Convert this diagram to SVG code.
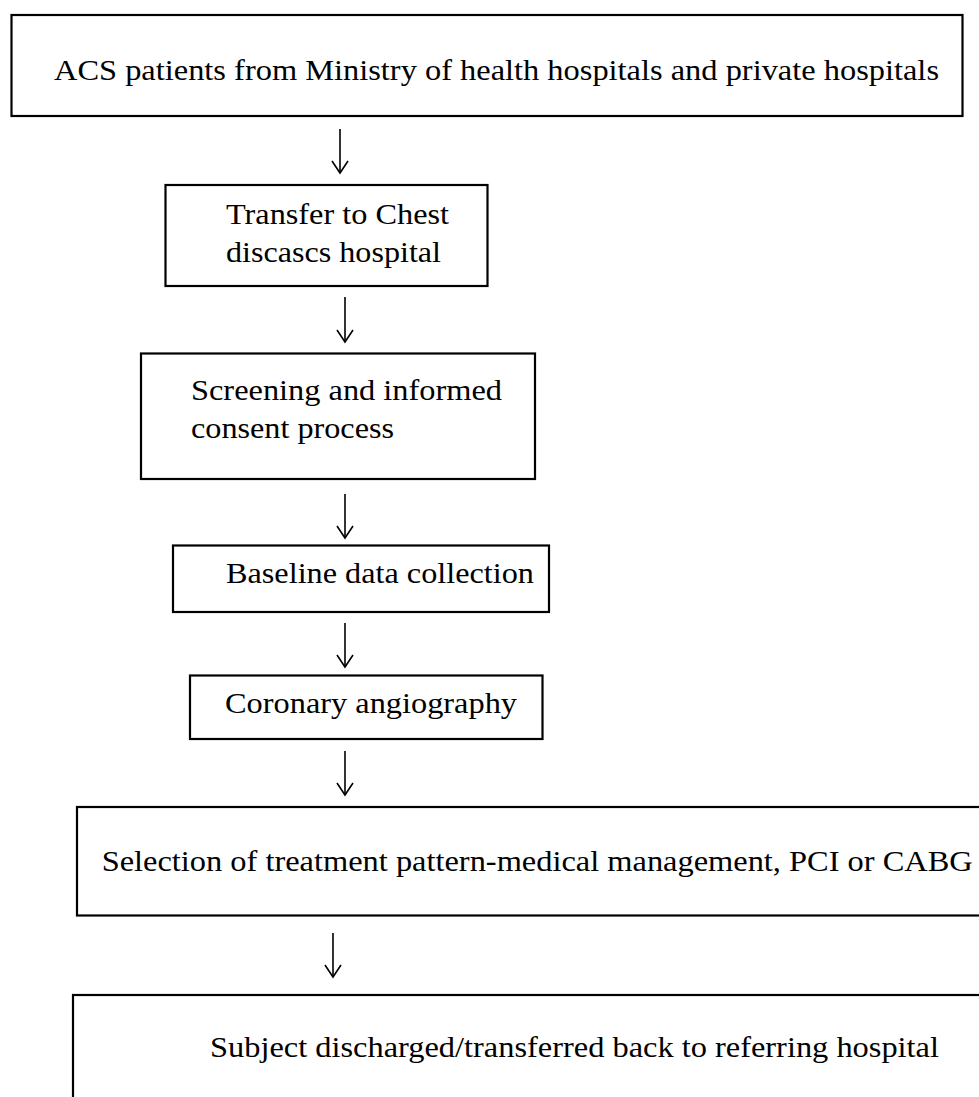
<svg xmlns="http://www.w3.org/2000/svg" width="979" height="1097" viewBox="0 0 979 1097">
<style>
.box{fill:#fff;stroke:#000;stroke-width:2.2}
.lbl{font-family:'Liberation Serif','Times New Roman',serif;font-size:29.5px;fill:#000}
.con{stroke:#000;stroke-width:1.6;fill:none}
</style>
<defs>
<marker id="ah" markerUnits="userSpaceOnUse" viewBox="-14 -10 16 20" refX="0" refY="0" markerWidth="16" markerHeight="20" orient="auto" overflow="visible">
<path d="M -12 -8 L 0 0 L -12 8" fill="none" stroke="#000" stroke-width="1.6"/>
</marker>
</defs>
<rect width="979" height="1097" fill="#fff"/>
<g id="connectors">
<line class="con" x1="340" y1="129" x2="340" y2="173" marker-end="url(#ah)"/>
<line class="con" x1="345" y1="297" x2="345" y2="342" marker-end="url(#ah)"/>
<line class="con" x1="345" y1="494" x2="345" y2="538" marker-end="url(#ah)"/>
<line class="con" x1="345" y1="623" x2="345" y2="667" marker-end="url(#ah)"/>
<line class="con" x1="345" y1="751" x2="345" y2="795" marker-end="url(#ah)"/>
<line class="con" x1="333" y1="933" x2="333" y2="977" marker-end="url(#ah)"/>
</g>
<g id="n1">
<rect class="box" x="11.5" y="15" width="951" height="101"/>
<text class="lbl" x="54" y="80" textLength="885" lengthAdjust="spacingAndGlyphs">ACS patients from Ministry of health hospitals and private hospitals</text>
</g>
<g id="n2">
<rect class="box" x="165.5" y="185" width="322" height="101"/>
<text class="lbl" x="226" y="224" textLength="223" lengthAdjust="spacingAndGlyphs">Transfer to Chest</text>
<text class="lbl" x="226" y="261.5" textLength="215" lengthAdjust="spacingAndGlyphs">discascs hospital</text>
</g>
<g id="n3">
<rect class="box" x="141" y="353.5" width="394" height="125.5"/>
<text class="lbl" x="191" y="400" textLength="311" lengthAdjust="spacingAndGlyphs">Screening and informed</text>
<text class="lbl" x="191" y="438" textLength="203" lengthAdjust="spacingAndGlyphs">consent process</text>
</g>
<g id="n4">
<rect class="box" x="173" y="545.5" width="376" height="66.5"/>
<text class="lbl" x="226" y="583" textLength="308" lengthAdjust="spacingAndGlyphs">Baseline data collection</text>
</g>
<g id="n5">
<rect class="box" x="190" y="675.5" width="352.5" height="63.5"/>
<text class="lbl" x="225" y="713" textLength="292" lengthAdjust="spacingAndGlyphs">Coronary angiography</text>
</g>
<g id="n6">
<rect class="box" x="77" y="807" width="920" height="108.5"/>
<text class="lbl" x="101.7" y="870.5" textLength="871" lengthAdjust="spacingAndGlyphs">Selection of treatment pattern-medical management, PCI or CABG</text>
</g>
<g id="n7">
<rect class="box" x="73" y="995" width="920" height="120"/>
<text class="lbl" x="210" y="1056.5" textLength="729" lengthAdjust="spacingAndGlyphs">Subject discharged/transferred back to referring hospital</text>
</g>
</svg>
